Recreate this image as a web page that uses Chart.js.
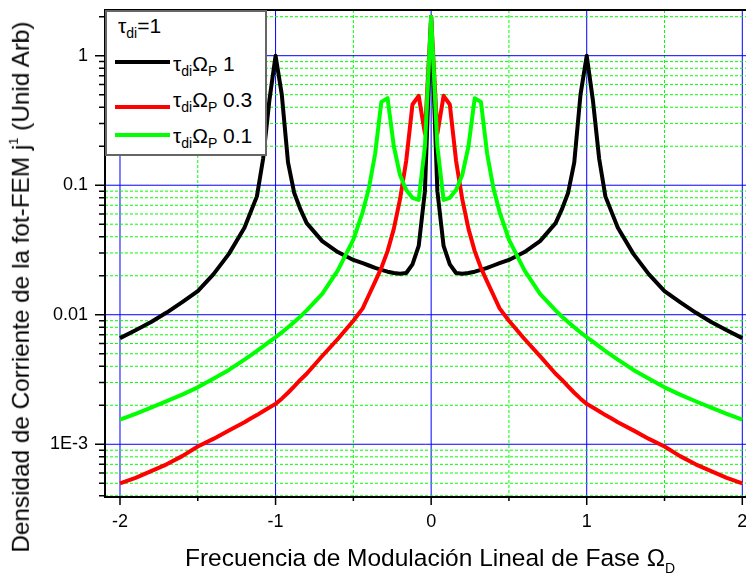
<!DOCTYPE html>
<html lang="es">
<head>
<meta charset="UTF-8">
<title>Densidad de Corriente de la fot-FEM</title>
<script src="https://cdn.jsdelivr.net/npm/chart.js"></script>
<style>
  body { margin: 0; background: #fff; }
  #wrap { position: relative; width: 746px; height: 575px; overflow: hidden;
          font-family: 'Liberation Sans', Arial, sans-serif; color: #000; }
  .abs { position: absolute; white-space: nowrap; line-height: 1; }
  #ytitle { font-size: 24.3px; left: 21px; top: 287px; transform: translate(-50%, -50%) rotate(-90deg); }
  #xtitle { font-size: 24.5px; left: 185px; top: 546px; }
  .sup1 { font-size: 13px; position: relative; top: -11px; }
  .subD { font-size: 14px; position: relative; top: 7px; }
  #legendBox { position: absolute; left: 105px; top: 10px; width: 162px; height: 146px;
               box-sizing: border-box; border: 2px solid #666; background: #fff; }
  .sub { position: relative; top: 5px; font-size: 14px; }
</style>
</head>
<body>
<div id="wrap">
  <canvas id="chart"></canvas>
  <div class="abs" id="ytitle">Densidad de Corriente de la fot-FEM j<span class="sup1">1</span> (Unid Arb)</div>
  <div class="abs" id="xtitle">Frecuencia de Modulación Lineal de Fase Ω<span class="subD">D</span></div>
  <div id="legendBox"></div>
</div>

<script>
    // Frecuencia de modulacion Omega_D
    const omegaD = [-2, -1.9, -1.8, -1.7, -1.6, -1.5, -1.4, -1.3, -1.2, -1.16, -1.12, -1.08, -1.04,
        -1, -0.96, -0.92, -0.88, -0.84, -0.8, -0.7, -0.6, -0.5, -0.44, -0.4, -0.36, -0.32, -0.28,
        -0.24, -0.2, -0.16, -0.12, -0.08, -0.04, 0, 0.04, 0.08, 0.12, 0.16, 0.2, 0.24, 0.28, 0.32,
        0.36, 0.4, 0.44, 0.5, 0.6, 0.7, 0.8, 0.84, 0.88, 0.92, 0.96, 1, 1.04, 1.08, 1.12, 1.16,
        1.2, 1.3, 1.4, 1.5, 1.6, 1.7, 1.8, 1.9, 2];

    // tau_di Omega_P = 1
    const jP1 = [0.0066, 0.0076, 0.0088, 0.0104, 0.0125, 0.0152, 0.0205, 0.0295, 0.047, 0.062, 0.082, 0.16, 0.45,
        1.0, 0.5, 0.15, 0.087, 0.065, 0.051, 0.037, 0.0305, 0.0265, 0.025, 0.024, 0.023, 0.0222, 0.0215,
        0.021, 0.0207, 0.021, 0.0245, 0.034, 0.09, 2.0, 0.09, 0.034, 0.0245, 0.021, 0.0207, 0.021, 0.0215, 0.0222,
        0.023, 0.024, 0.025, 0.0265, 0.0305, 0.037, 0.051, 0.065, 0.087, 0.15, 0.5, 1.0, 0.45, 0.16, 0.082, 0.062,
        0.047, 0.0295, 0.0205, 0.0152, 0.0125, 0.0104, 0.0088, 0.0076, 0.0066];

    // tau_di Omega_P = 0.3
    const jP03 = [5.0e-4, 5.5e-4, 6.2e-4, 7.0e-4, 8.1e-4, 9.6e-4, 1.1e-3, 1.28e-3, 1.48e-3, 1.58e-3, 1.68e-3, 1.8e-3, 1.92e-3,
        2.05e-3, 2.25e-3, 2.5e-3, 2.8e-3, 3.15e-3, 3.5e-3, 4.8e-3, 6.5e-3, 9.0e-3, 0.0112, 0.0142, 0.018, 0.023, 0.031,
        0.046, 0.078, 0.155, 0.42, 0.49, 0.25, 2.0, 0.25, 0.49, 0.42, 0.155, 0.078, 0.046, 0.031, 0.023,
        0.018, 0.0142, 0.0112, 9.0e-3, 6.5e-3, 4.8e-3, 3.5e-3, 3.15e-3, 2.8e-3, 2.5e-3, 2.25e-3, 2.05e-3, 1.92e-3, 1.8e-3, 1.68e-3, 1.58e-3,
        1.48e-3, 1.28e-3, 1.1e-3, 9.6e-4, 8.1e-4, 7.0e-4, 6.2e-4, 5.5e-4, 5.0e-4];

    // tau_di Omega_P = 0.1
    const jP01 = [1.55e-3, 1.72e-3, 1.92e-3, 2.15e-3, 2.42e-3, 2.75e-3, 3.2e-3, 3.75e-3, 4.5e-3, 4.85e-3, 5.25e-3, 5.7e-3, 6.2e-3,
        6.7e-3, 7.3e-3, 8.0e-3, 8.8e-3, 9.7e-3, 0.0108, 0.0145, 0.022, 0.038, 0.062, 0.095, 0.175, 0.44, 0.47,
        0.2, 0.12, 0.092, 0.08, 0.077, 0.2, 2.0, 0.2, 0.077, 0.08, 0.092, 0.12, 0.2, 0.47, 0.44,
        0.175, 0.095, 0.062, 0.038, 0.022, 0.0145, 0.0108, 9.7e-3, 8.8e-3, 8.0e-3, 7.3e-3, 6.7e-3, 6.2e-3, 5.7e-3, 5.25e-3, 4.85e-3,
        4.5e-3, 3.75e-3, 3.2e-3, 2.75e-3, 2.42e-3, 2.15e-3, 1.92e-3, 1.72e-3, 1.55e-3];

    const seriesNames = ['1', '0.3', '0.1'];
    const seriesColors = ['#000000', '#ff0000', '#00ff00'];

    const xTickValues = [-2, -1.5, -1, -0.5, 0, 0.5, 1, 1.5, 2];
    const xTickLabelValues = [-2, -1, 0, 1, 2];
    const xTickLabels = ['-2', '-1', '0', '1', '2'];
    const yTickLabelValues = [1e-3, 1e-2, 1e-1, 1];
    const yTickLabels = ['1E-3', '0.01', '0.1', '1'];

    const xMin = -2.0964, xMax = 2.0238;
    const yMin = 3.917e-4, yMax = 2.253;

    // minor log ticks 1..9 per decade inside the range
    const yTickValues = [];
    for (let e = -4; e <= 0; e++) {
        for (let m = 1; m <= 9; m++) {
            const v = m * Math.pow(10, e);
            if (v >= yMin && v <= yMax) yTickValues.push(v);
        }
    }

    function findIndex(list, v) {
        return list.findIndex(t => Math.abs(t - v) < Math.abs(v) * 1e-6 + 1e-12);
    }
    function isDecade(v) { return findIndex(yTickLabelValues, v) >= 0; }
    function isMajorX(v) { return findIndex(xTickLabelValues, v) >= 0; }

    // legend built from the series lists
    const wrap = document.getElementById('wrap');
    const title = document.createElement('div');
    title.className = 'abs';
    title.style.cssText = 'left:118px;top:15px;font-size:21px;';
    title.innerHTML = 'τ<span class="sub">di</span>=1';
    wrap.appendChild(title);
    const lineY = [62, 107, 135];
    const textTop = [53, 89, 125];
    seriesNames.forEach((name, i) => {
        const sample = document.createElement('div');
        sample.style.cssText = 'position:absolute;left:115px;width:55px;height:4px;top:' + (lineY[i] - 2) + 'px;background:' + seriesColors[i];
        wrap.appendChild(sample);
        const label = document.createElement('div');
        label.className = 'abs';
        label.style.cssText = 'left:173px;font-size:21px;top:' + textTop[i] + 'px;';
        label.innerHTML = 'τ<span class="sub">di</span>Ω<span class="sub">P</span> ' + name;
        wrap.appendChild(label);
    });

    // blue major / green dotted minor grid, drawn under the curves
    const gridLines = {
        id: 'gridLines',
        beforeDatasetsDraw(chart) {
            const {ctx, chartArea: a, scales: {x, y}} = chart;
            ctx.save();
            ctx.lineWidth = 1;
            x.ticks.forEach(t => {
                const major = isMajorX(t.value);
                const px = x.getPixelForValue(t.value);
                ctx.strokeStyle = major ? '#0000ff' : '#00ff00';
                ctx.setLineDash(major ? [] : [3, 2]);
                ctx.beginPath();
                ctx.moveTo(px, a.top);
                ctx.lineTo(px, a.bottom);
                ctx.stroke();
            });
            y.ticks.forEach(t => {
                const major = isDecade(t.value);
                const py = y.getPixelForValue(t.value);
                ctx.strokeStyle = major ? '#0000ff' : '#00ff00';
                ctx.setLineDash(major ? [] : [3, 2]);
                ctx.beginPath();
                ctx.moveTo(a.left, py);
                ctx.lineTo(a.right, py);
                ctx.stroke();
            });
            ctx.restore();
        }
    };

    const frameAndTicks = {
        id: 'frameAndTicks',
        afterDatasetsDraw(chart) {
            const {ctx, chartArea: a, scales: {x, y}} = chart;
            ctx.save();
            ctx.strokeStyle = '#000';
            ctx.lineWidth = 1.5;
            ctx.beginPath();
            y.ticks.forEach(t => {
                const py = y.getPixelForValue(t.value);
                const len = isDecade(t.value) ? 10 : 6;
                ctx.moveTo(a.left - len, py);
                ctx.lineTo(a.left, py);
            });
            x.ticks.forEach(t => {
                const px = x.getPixelForValue(t.value);
                const len = isMajorX(t.value) ? 8 : 4;
                ctx.moveTo(px, a.bottom);
                ctx.lineTo(px, a.bottom + len);
            });
            ctx.stroke();
            ctx.lineWidth = 2;
            ctx.beginPath();
            ctx.moveTo(a.right, a.top);
            ctx.lineTo(a.left, a.top);
            ctx.lineTo(a.left, a.bottom);
            ctx.lineTo(a.right, a.bottom);
            ctx.stroke();
            ctx.restore();
        }
    };

    function makeSet(values, i, order) {
        return {
            label: seriesNames[i],
            data: omegaD.map((v, k) => ({x: v, y: values[k]})),
            borderColor: seriesColors[i],
            borderWidth: 4,
            pointRadius: 0,
            tension: 0,
            borderJoinStyle: 'round',
            order: order
        };
    }

    function noPadding(s) {
        s.paddingLeft = 0;
        s.paddingRight = 0;
        s.paddingTop = 0;
        s.paddingBottom = 0;
    }

    Chart.defaults.font.family = "'Liberation Sans', Arial, sans-serif";
    Chart.defaults.color = '#000';

    const tickFont = {size: 18};

    new Chart(document.getElementById('chart'), {
        type: 'line',
        data: {
            datasets: [makeSet(jP1, 0, 2), makeSet(jP03, 1, 1), makeSet(jP01, 2, 0)]
        },
        options: {
            responsive: true,
            maintainAspectRatio: false,
            animation: false,
            layout: {padding: {top: 10, left: 0, right: 0, bottom: 0}, autoPadding: false},
            plugins: {legend: {display: false}, tooltip: {enabled: false}},
            scales: {
                x: {
                    type: 'linear',
                    min: xMin,
                    max: xMax,
                    afterBuildTicks: s => { s.ticks = xTickValues.map(v => ({value: v})); },
                    afterFit: s => { s.height = 78; noPadding(s); },
                    grid: {display: false, drawTicks: false},
                    border: {display: false},
                    ticks: {
                        padding: 14,
                        autoSkip: false,
                        maxRotation: 0,
                        font: tickFont,
                        callback: v => {
                            const k = findIndex(xTickLabelValues, v);
                            return k >= 0 ? xTickLabels[k] : '';
                        }
                    }
                },
                y: {
                    type: 'logarithmic',
                    min: yMin,
                    max: yMax,
                    afterBuildTicks: s => { s.ticks = yTickValues.map(v => ({value: v})); },
                    afterFit: s => { s.width = 105; noPadding(s); },
                    grid: {display: false, drawTicks: false},
                    border: {display: false},
                    ticks: {
                        padding: 17,
                        autoSkip: false,
                        font: tickFont,
                        callback: v => {
                            const k = findIndex(yTickLabelValues, v);
                            return k >= 0 ? yTickLabels[k] : '';
                        }
                    }
                }
            }
        },
        plugins: [gridLines, frameAndTicks]
    });
</script>
</body>
</html>
